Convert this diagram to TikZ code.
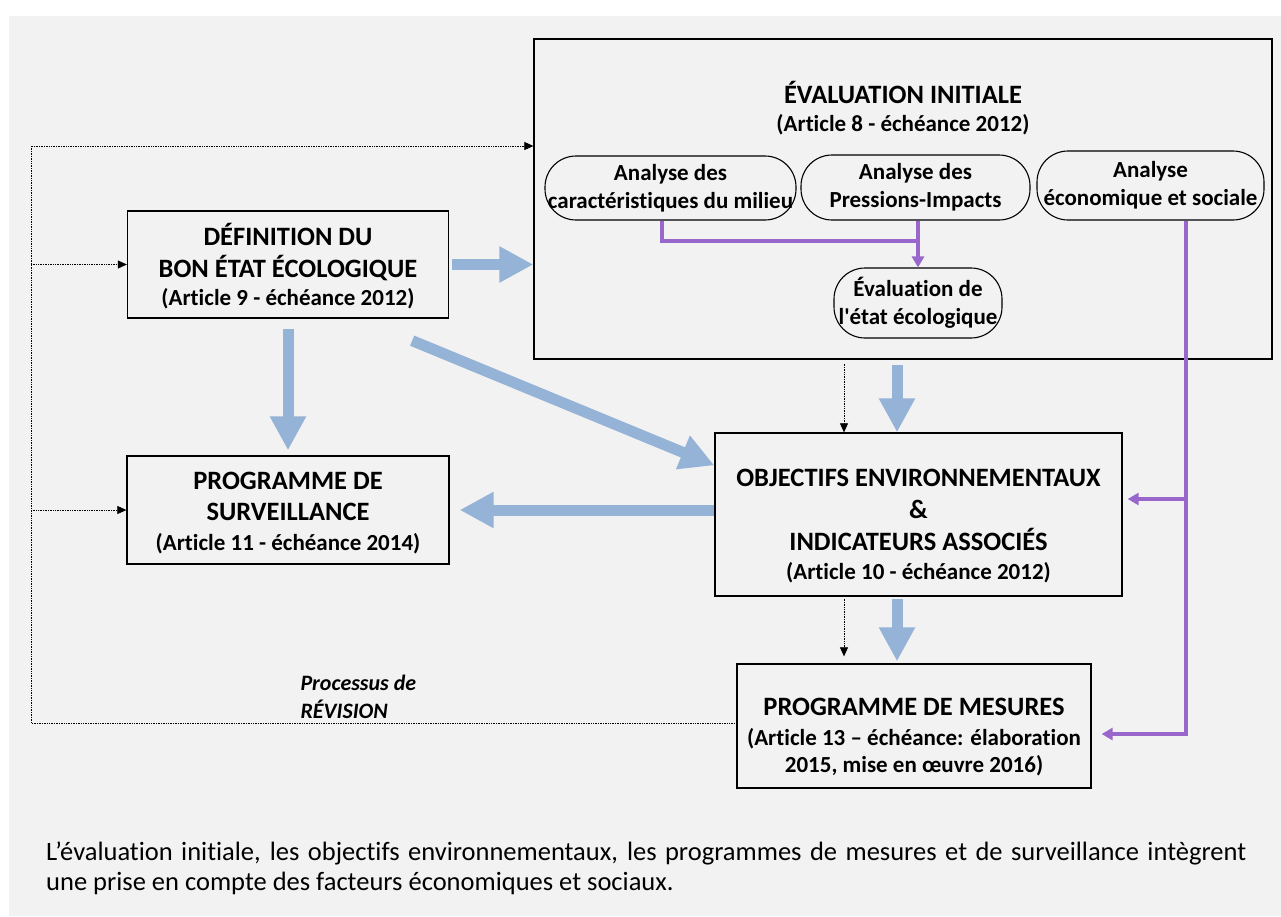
\documentclass[tikz,border=0pt]{standalone}
\usepackage{fontspec}
\setmainfont{Carlito}[Ligatures={TeXOff,NoCommon}]
\usetikzlibrary{arrows.meta}
\definecolor{flowblue}{RGB}{149,179,215}
\definecolor{flowpurple}{RGB}{153,102,204}
\definecolor{panelgray}{RGB}{242,242,242}
\newcommand{\titlesize}{\fontsize{26.5}{31}\selectfont}
\newcommand{\refsize}{\fontsize{23}{28}\selectfont}

\begin{document}
\begin{tikzpicture}[
    x=1pt,y=-1pt,
    every node/.style={font=\bfseries},
    box/.style={rectangle,draw,line width=1.3pt,inner sep=0pt,align=center},
    boxtext/.style={align=center,inner sep=0pt,font=\bfseries\titlesize},
    oval/.style={rectangle,draw,line width=1.1pt,rounded corners=31pt,inner sep=0pt,align=center,font=\bfseries\refsize},
    bluearrow/.style={draw=flowblue,line width=11pt,-{Triangle[length=34pt,width=34pt]}},
    purpleline/.style={draw=flowpurple,line width=3.5pt},
    purplearrow/.style={purpleline,-{Triangle[length=11pt,width=12pt]}},
    revline/.style={densely dotted,line width=0.7pt},
    revarrow/.style={revline,-{Triangle[length=9pt,width=8pt]}}
]

% Panel and page
\useasboundingbox (0,0) rectangle (1281,916);
\fill[panelgray] (9,16) rectangle (1281,916);

% Initial evaluation block (absolute positions)
\node[box,minimum width=738,minimum height=320] (evalbox) at (903,199) {};
\node[boxtext] (evaltitle) at (903,108) {ÉVALUATION INITIALE\\[-3pt]\refsize (Article 8 - échéance 2012)};
\node[oval,minimum width=251,minimum height=64] (milieu)    at (670.5,188)   {Analyse des\\caractéristiques du milieu};
\node[oval,minimum width=229,minimum height=65] (pressions) at (915.5,187.5) {Analyse des\\Pressions-Impacts};
\node[oval,minimum width=227,minimum height=69] (econ)      at (1150.5,185.5) {Analyse\\économique et sociale};
\node[oval,minimum width=168,minimum height=70] (etat)      at (918,303)     {Évaluation de\\l\textquotesingle état écologique};

% Other boxes
\node[box,minimum width=321,minimum height=107] (defin) at (288,264.5) {};
\node[boxtext] (defintext) at (288,266) {DÉFINITION DU\\[1pt]BON ÉTAT ÉCOLOGIQUE\\[-3pt]\refsize (Article 9 - échéance 2012)};
\node[box,minimum width=322,minimum height=108] (surv) at (288,510) {};
\node[boxtext] (survtext) at (288,513.5) {PROGRAMME DE\\SURVEILLANCE\\[-1pt]\refsize (Article 11 - échéance 2014)};
\node[box,minimum width=407,minimum height=163] (obj) at (918.5,514.5) {};
\node[boxtext] (objtext) at (918.5,526) {OBJECTIFS ENVIRONNEMENTAUX\\[1pt]\&\\[1pt]INDICATEURS ASSOCIÉS\\[-2pt]\refsize (Article 10 - échéance 2012)};
\node[box,minimum width=354,minimum height=124] (mes) at (914,726) {};
\node[boxtext] (mestext) at (914,737.5) {PROGRAMME DE MESURES\\[-1pt]\refsize (Article 13 – échéance: élaboration\\[-4pt]\refsize 2015, mise en œuvre 2016)};

% Labels
\node[align=left,anchor=west,font=\bfseries\itshape\fontsize{22}{28}\selectfont] (revlabel) at (297,697) {Processus de\\RÉVISION};
\node[align=left,anchor=west,inner sep=0pt,font=\mdseries\fontsize{26.5}{30}\selectfont] (caption) at (46,868) {\makebox[1200pt][s]{L’évaluation initiale, les objectifs environnementaux, les programmes de mesures et de surveillance intègrent}\\une prise en compte des facteurs économiques et sociaux.};

% Helper coordinates
\coordinate (spine) at (897,0);
\coordinate (revx)  at (844,0);
\coordinate (pjoin) at (918,241);
\coordinate (pmid)  at (1186,499);
\coordinate (pbot)  at (1186,734);
\coordinate (revtop) at (31,146);
\coordinate (revbot) at (31,723);

% Blue flow arrows
\draw[bluearrow] ([xshift=3pt]defin.east) -- (defin.east -| evalbox.west);
\draw[bluearrow,shorten <=10pt,shorten >=5pt] (defin.south) -- (surv.north);
\draw[bluearrow] ([shift={(-37,22)}]defin.south east) -- ([yshift=-33pt]obj.north west);
\draw[bluearrow] ([yshift=4.5pt]obj.west) -- ([xshift=10pt]surv.east);
\draw[bluearrow,shorten <=5pt] (spine |- evalbox.south) -- (spine |- obj.north);
\draw[bluearrow,shorten <=2pt,shorten >=2pt] (spine |- obj.south) -- (spine |- mes.north);

% Purple links
\draw[purpleline] ([xshift=-8.5pt]milieu.south) |- (pjoin);
\draw[purplearrow] (pressions.south -| etat.north) -- (etat.north);
\draw[purplearrow,shorten >=10pt] ([xshift=35.5pt]econ.south) -- (pbot) -- (pbot -| mes.east);
\draw[purplearrow,shorten >=5pt] (pmid) -- (pmid -| obj.east);

% Revision loop (dotted)
\draw[revarrow] ([yshift=3pt]mes.west) -- (revbot) -- (revtop) -- (revtop -| evalbox.west);
\draw[revarrow] (revbot |- defin.west) -- (defin.west);
\draw[revarrow] (revbot |- surv.west) -- (surv.west);
\draw[revarrow,shorten <=4pt] (revx |- evalbox.south) -- (revx |- obj.north);
\draw[revarrow,shorten <=2pt,shorten >=7pt] (revx |- obj.south) -- (revx |- mes.north);

\end{tikzpicture}
\end{document}
